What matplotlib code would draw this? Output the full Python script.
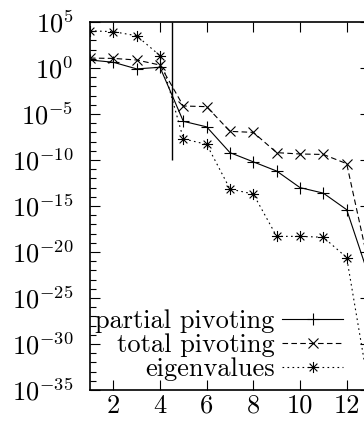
import numpy as np
import matplotlib
matplotlib.use("Agg")
import matplotlib.pyplot as plt
from matplotlib.path import Path

plt.rcParams['font.family'] = 'cmr10'
plt.rcParams['mathtext.fontset'] = 'cm'
plt.rcParams['axes.formatter.use_mathtext'] = True

# data
n = [1, 2, 3, 4, 5, 6, 7, 8, 9, 10, 11, 12, 13]
partial = [7.4e0, 4.2e0, 8e-1, 1.2e0, 1.6e-6, 4e-7, 6.3e-10, 6.3e-11, 6.3e-12,
           1e-13, 2.5e-14, 4e-16, 1e-23]
total = [1.2e1, 1.1e1, 7.4e0, 2.1e0, 7.4e-5, 6.3e-5, 1.3e-7, 1e-7, 6.3e-10,
         4.5e-10, 4e-10, 4e-11, 1e-22]
eigen = [1.1e4, 8.9e3, 3.2e3, 2.2e1, 2e-8, 5e-9, 7e-14, 2e-14, 5e-19,
         5e-19, 4e-19, 2.5e-21, 3e-36]
labels = ['partial pivoting', 'total pivoting', 'eigenvalues']
vline_x = 4.5
vline_range = (1e-10, 1e5)
xticks = [2, 4, 6, 8, 10, 12]
ytick_exps = [5, 0, -5, -10, -15, -20, -25, -30, -35]

# gnuplot style star = plus + cross
star = Path([(-1, 0), (1, 0), (0, -1), (0, 1),
             (-0.7, -0.7), (0.7, 0.7), (-0.7, 0.7), (0.7, -0.7)],
            [Path.MOVETO, Path.LINETO] * 4)

fig = plt.figure(figsize=(3.64, 4.21), dpi=100)
ax = fig.add_axes([90/364, 31/421, 280/364, 368/421])

lw = 0.8
ax.plot(n, partial, color='black', lw=lw, marker='+', ms=9, mew=0.8,
        label=labels[0])
ax.plot(n, total, color='black', lw=lw, ls=(0, (5, 3)), marker='x', ms=7,
        mew=0.8, label=labels[1])
ax.plot(n, eigen, color='black', lw=lw, ls=(0, (1.5, 3)), marker=star, ms=8,
        mew=0.8, label=labels[2])
ax.vlines(vline_x, vline_range[0], vline_range[1], color='black', lw=1.0)

ax.set_yscale('log')
ax.set_xlim(1, 13)
ax.set_ylim(1e-35, 1e5)
ax.set_xticks(xticks)
ax.set_xticklabels([str(t) for t in xticks])
ax.set_yticks([10.0**e for e in ytick_exps])
ax.set_yticklabels([r'$10^{%d}$' % e for e in ytick_exps])
ax.set_yticks([10.0**e for e in range(-35, 6) if e % 5 != 0], minor=True)
ax.yaxis.set_minor_formatter(plt.NullFormatter())
ax.xaxis.set_minor_locator(plt.NullLocator())

ax.tick_params(which='both', direction='in', top=True, right=True,
               labelsize=19, width=0.8)
ax.tick_params(which='major', length=7)
ax.tick_params(which='minor', length=4)
ax.tick_params(axis='y', pad=12)
ax.tick_params(axis='x', pad=3)
for s in ax.spines.values():
    s.set_linewidth(1.2)

ax.legend(loc='lower right', bbox_to_anchor=(0.904, 0.025), frameon=False,
          markerfirst=False, fontsize=19, handlelength=2.3,
          handletextpad=0.3, labelspacing=0.0, borderpad=0, numpoints=1,
          borderaxespad=0)

fig.savefig('out.png', dpi=100)
